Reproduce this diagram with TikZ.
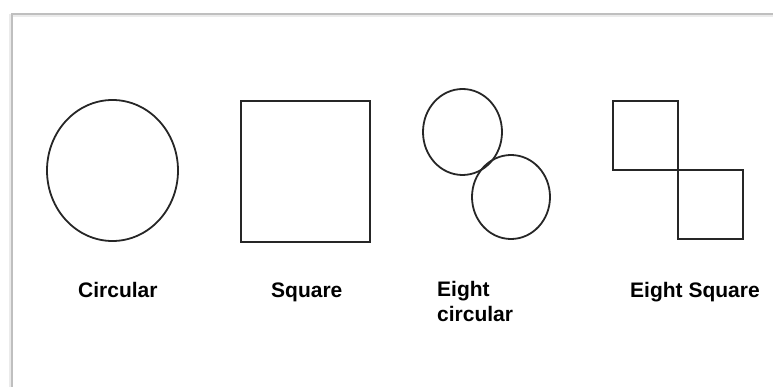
\documentclass[tikz,border=0pt]{standalone}
\usepackage{fontspec}
\setmainfont{Liberation Sans}
\usetikzlibrary{shapes.geometric}
\begin{document}
\begin{tikzpicture}[x=1pt,y=-1pt,
  shapeline/.style={draw=black!85,line width=1.8pt,inner sep=0pt,outer sep=0pt},
  roundshape/.style={shapeline,ellipse},
  boxshape/.style={shapeline,rectangle},
  lbl/.style={inner sep=0pt,font=\fontsize{21}{25}\selectfont\bfseries,text=black},
  frameline/.style={draw=black!25,line width=1.2pt}]
\useasboundingbox (0,0) rectangle (773,387);
% frame
\coordinate (fbl) at (12,387);
\coordinate (ftl) at (12,14);
\coordinate (ftr) at (773,14);
\draw[draw=black!8,line width=3pt] ([xshift=-1.5pt]fbl) -- ([xshift=-1.5pt,yshift=-1.5pt]ftl) -- ([yshift=-1.5pt]ftr);
\draw[frameline] (fbl) -- (ftl) -- (ftr);
% circular
\node[roundshape,minimum width=131pt,minimum height=141pt] (circ) at (112.5,170.5) {};
\node[lbl,anchor=base west] (lcirc) at (78,297) {Circular};
% square
\node[boxshape,minimum width=129pt,minimum height=141pt] (sq) at (305.5,171.5) {};
\node[lbl,anchor=base west] (lsq) at (271,297) {Square};
% eight circular
\node[roundshape,minimum width=79pt,minimum height=86pt] (ec1) at (462.5,132) {};
\node[roundshape,minimum width=78pt,minimum height=84pt] (ec2) at (511,197) {};
\node[lbl,anchor=north west,align=left] (lec) at (437,281.5) {Eight\\circular};
% eight square
\node[boxshape,minimum width=65pt,minimum height=69pt] (es1) at (645.5,135.5) {};
\node[boxshape,minimum width=65pt,minimum height=69pt] (es2) at (710.5,204.5) {};
\node[lbl,anchor=base west] (les) at (630,297) {Eight Square};
\end{tikzpicture}
\end{document}
